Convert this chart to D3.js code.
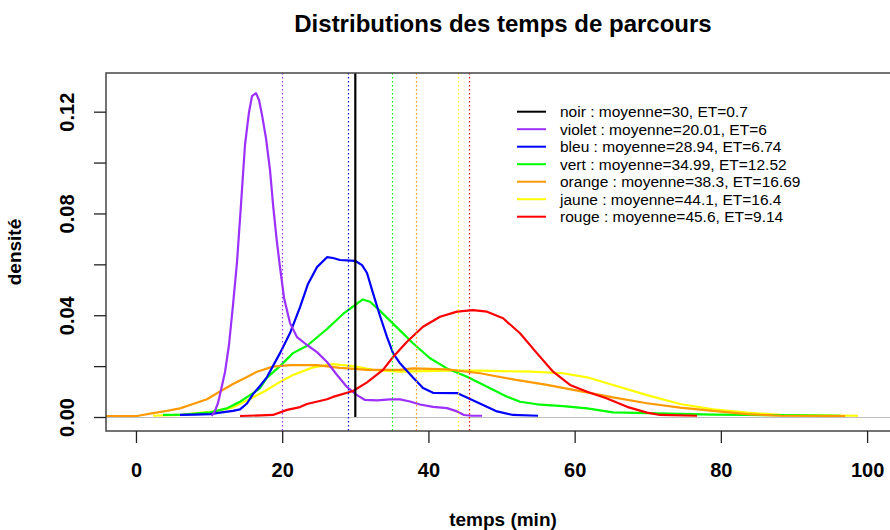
<!DOCTYPE html>
<html>
<head>
<meta charset="utf-8">
<script src="https://cdn.jsdelivr.net/npm/d3@7"></script>
<style>
  html, body { margin: 0; padding: 0; background: #fff; }
  svg { display: block; font-family: "Liberation Sans", Arial, sans-serif; }
</style>
</head>
<body>
<svg id="chart" width="890" height="530"></svg>
<script>
// Estimated kernel densities of travel time (minutes) for each route
const violetX = [10.36, 10.81, 11.22, 11.63, 12.18, 12.72, 13.27, 13.82, 14.36, 14.91, 15.46, 15.87, 16.42, 16.83, 17.24, 17.78, 18.33, 18.78, 19.25, 19.70, 20.25, 21.07, 22.02, 23.39, 24.76, 26.13, 27.50, 28.86, 30.23, 31.33, 32.97, 34.75, 36.11, 37.48, 38.85, 40.63, 42.54, 43.91, 44.87, 45.96, 47.33];
const violetY = [0.0004, 0.0024, 0.0055, 0.0106, 0.0177, 0.0283, 0.0440, 0.0609, 0.0833, 0.1069, 0.1198, 0.1261, 0.1273, 0.1246, 0.1187, 0.1096, 0.0971, 0.0825, 0.0695, 0.0589, 0.0468, 0.0369, 0.0314, 0.0283, 0.0255, 0.0216, 0.0165, 0.0118, 0.0086, 0.0067, 0.0065, 0.0069, 0.0069, 0.0061, 0.0049, 0.0040, 0.0035, 0.0022, 0.0008, 0.0005, 0.0005];

const bleuX = [6.02, 8.07, 10.12, 11.49, 13.27, 14.23, 15.18, 16.01, 16.96, 17.92, 19.70, 21.07, 22.44, 23.53, 24.76, 26.13, 26.95, 27.91, 29.96, 30.92, 31.60, 32.42, 33.38, 34.34, 35.16, 36.11, 37.89, 39.26, 40.63, 43.91, 45.55, 47.47, 49.38, 51.57, 54.99];
const bleuY = [0.0008, 0.0009, 0.0011, 0.0017, 0.0024, 0.0030, 0.0053, 0.0090, 0.0122, 0.0157, 0.0251, 0.0330, 0.0432, 0.0523, 0.0589, 0.0628, 0.0625, 0.0617, 0.0614, 0.0597, 0.0566, 0.0487, 0.0397, 0.0314, 0.0251, 0.0211, 0.0155, 0.0114, 0.0095, 0.0094, 0.0073, 0.0047, 0.0022, 0.0008, 0.0005];

const vertX = [3.69, 6.43, 10.12, 12.45, 14.23, 15.60, 16.96, 17.92, 19.70, 21.48, 23.39, 26.13, 28.32, 30.23, 31.05, 32.01, 33.38, 35.16, 37.89, 40.22, 42.54, 45.28, 48.02, 50.75, 52.53, 54.86, 58.41, 61.70, 65.25, 69.90, 74.42, 78.93, 83.58, 90.42, 96.31];
const vertY = [0.0008, 0.0009, 0.0018, 0.0034, 0.0060, 0.0086, 0.0113, 0.0155, 0.0200, 0.0251, 0.0280, 0.0346, 0.0405, 0.0446, 0.0462, 0.0453, 0.0417, 0.0367, 0.0290, 0.0231, 0.0191, 0.0158, 0.0119, 0.0080, 0.0060, 0.0050, 0.0043, 0.0034, 0.0018, 0.0015, 0.0012, 0.0009, 0.0008, 0.0007, 0.0005];

const orangeX = [-4.10, 0.14, 2.33, 4.24, 6.02, 7.80, 9.71, 11.49, 13.27, 15.18, 16.55, 18.74, 21.07, 24.76, 27.91, 31.60, 36.11, 37.89, 42.54, 47.06, 51.57, 56.22, 60.74, 65.25, 69.90, 74.42, 78.93, 83.58, 88.10, 97.0];
const orangeY = [0.0004, 0.0004, 0.0015, 0.0024, 0.0034, 0.0051, 0.0070, 0.0100, 0.0130, 0.0157, 0.0178, 0.0198, 0.0204, 0.0204, 0.0193, 0.0185, 0.0185, 0.0191, 0.0187, 0.0172, 0.0148, 0.0126, 0.0102, 0.0077, 0.0054, 0.0037, 0.0024, 0.0011, 0.0005, 0.0004];

const jauneX = [2.33, 6.02, 8.34, 10.53, 13.27, 15.60, 17.65, 19.70, 21.48, 24.21, 26.95, 29.69, 32.42, 36.11, 42.54, 47.06, 53.90, 58.41, 61.70, 65.25, 69.90, 74.42, 78.93, 83.58, 88.10, 98.77];
const jauneY = [0.0005, 0.0008, 0.0015, 0.0021, 0.0038, 0.0071, 0.0102, 0.0138, 0.0165, 0.0195, 0.0208, 0.0200, 0.0185, 0.0178, 0.0182, 0.0182, 0.0178, 0.0172, 0.0156, 0.0126, 0.0086, 0.0051, 0.0030, 0.0017, 0.0008, 0.0005];

const rougeX = [14.23, 18.74, 20.66, 22.44, 23.39, 26.13, 26.95, 29.69, 31.60, 33.79, 35.16, 37.07, 39.26, 41.59, 43.91, 46.10, 48.02, 50.21, 52.53, 54.86, 57.05, 59.37, 61.70, 64.43, 67.17, 69.90, 71.68, 76.74];
const rougeY = [0.0004, 0.0008, 0.0028, 0.0039, 0.0051, 0.0070, 0.0079, 0.0102, 0.0136, 0.0185, 0.0236, 0.0296, 0.0355, 0.0394, 0.0414, 0.0420, 0.0414, 0.0388, 0.0329, 0.0250, 0.0178, 0.0126, 0.0099, 0.0073, 0.0040, 0.0017, 0.0008, 0.0005];

// Route summaries: names, means, standard deviations (ET), colours
const routeNames = ["noir", "violet", "bleu", "vert", "orange", "jaune", "rouge"];
const routeMeans = [30, 20.01, 28.94, 34.99, 38.3, 44.1, 45.6];
const routeSD = [0.7, 6, 6.74, 12.52, 16.69, 16.4, 9.14];
const routeColors = ["#000000", "#9B30FF", "#0000FF", "#00FF00", "#FF9A00", "#FFFF00", "#FF0000"];

const xTicks = [0, 20, 40, 60, 80, 100];
const yTicks = [0, 0.02, 0.04, 0.06, 0.08, 0.10, 0.12];
const yLabelled = [0, 0.04, 0.08, 0.12];

const svg = d3.select("#chart");
const plotLeft = 106, plotRight = 900, plotTop = 73, plotBottom = 431;
const axisFont = "Liberation Sans, Arial, sans-serif";

const x = d3.scaleLinear().domain([-4.1, 104.5]).range([plotLeft, plotRight]);
const y = d3.scaleLinear().domain([-0.0055, 0.1352]).range([plotBottom, plotTop]);
const snap = v => Math.round(v) + 0.5;

svg.append("defs").append("clipPath").attr("id", "plotclip")
  .append("rect").attr("x", plotLeft).attr("y", plotTop)
  .attr("width", plotRight - plotLeft).attr("height", plotBottom - plotTop);

const plot = svg.append("g").attr("clip-path", "url(#plotclip)");

// zero reference line
plot.append("line")
  .attr("x1", plotLeft).attr("x2", plotRight)
  .attr("y1", snap(y(0))).attr("y2", snap(y(0)))
  .attr("stroke", "#BEBEBE").attr("stroke-width", 1.2);

const curves = [
  { xs: orangeX, ys: orangeY, color: routeColors[4] },
  { xs: violetX, ys: violetY, color: routeColors[1] },
  { xs: bleuX, ys: bleuY, color: routeColors[2] },
  { xs: vertX, ys: vertY, color: routeColors[3] },
  { xs: jauneX, ys: jauneY, color: routeColors[5] },
  { xs: rougeX, ys: rougeY, color: routeColors[6] }
];
// draw order: yellow under orange on the plateau
const drawOrder = [4, 3, 0, 2, 1, 5];

const line = d3.line().x(d => x(d[0])).y(d => y(d[1]));

drawOrder.forEach(i => {
  const c = curves[i];
  plot.append("path")
    .datum(d3.zip(c.xs, c.ys))
    .attr("d", line)
    .attr("fill", "none")
    .attr("stroke", c.color)
    .attr("stroke-width", 2.2)
    .attr("stroke-linejoin", "round");
});

// dotted lines at each route mean
routeMeans.forEach((m, i) => {
  if (i === 0) return;
  plot.append("line")
    .attr("x1", snap(x(m))).attr("x2", snap(x(m)))
    .attr("y1", plotTop).attr("y2", plotBottom)
    .attr("stroke", routeColors[i])
    .attr("stroke-width", 1.2)
    .attr("stroke-dasharray", "1.5,2.5");
});

// solid line for the "noir" route mean
plot.append("line")
  .attr("x1", x(routeMeans[0])).attr("x2", x(routeMeans[0]))
  .attr("y1", plotTop).attr("y2", y(0))
  .attr("stroke", routeColors[0])
  .attr("stroke-width", 2.2);

// plot frame
svg.append("rect")
  .attr("x", plotLeft).attr("y", plotTop)
  .attr("width", plotRight - plotLeft).attr("height", plotBottom - plotTop)
  .attr("fill", "none").attr("stroke", "#444").attr("stroke-width", 1.5);

// x axis
const xAxis = svg.append("g")
  .attr("transform", `translate(0,${plotBottom})`)
  .call(d3.axisBottom(x).tickValues(xTicks).tickSize(12).tickPadding(20).tickFormat(d3.format("d")));
xAxis.select(".domain").remove();
xAxis.selectAll("line").attr("stroke", "#222").attr("stroke-width", 1.3);
xAxis.selectAll("text")
  .attr("font-size", 20).attr("font-weight", "bold").attr("fill", "#000")
  .attr("font-family", axisFont);

// y axis with rotated labels
const yAxis = svg.append("g")
  .attr("transform", `translate(${plotLeft},0)`)
  .call(d3.axisLeft(y).tickValues(yTicks).tickSize(12)
    .tickFormat(d => yLabelled.some(v => Math.abs(v - d) < 1e-9) ? d3.format(".2f")(d) : ""));
yAxis.select(".domain").remove();
yAxis.selectAll("line").attr("stroke", "#222").attr("stroke-width", 1.3);
yAxis.selectAll("text")
  .attr("font-size", 20).attr("font-weight", "bold").attr("fill", "#000")
  .attr("font-family", axisFont)
  .attr("x", null).attr("dy", null)
  .attr("text-anchor", "middle")
  .attr("transform", "translate(-32,0) rotate(-90)");

// titles
svg.append("text")
  .attr("x", (plotLeft + plotRight) / 2).attr("y", 32)
  .attr("text-anchor", "middle")
  .attr("font-size", 24).attr("font-weight", "bold")
  .text("Distributions des temps de parcours");

svg.append("text")
  .attr("x", (plotLeft + plotRight) / 2).attr("y", 526)
  .attr("text-anchor", "middle")
  .attr("font-size", 19).attr("font-weight", "bold")
  .text("temps (min)");

svg.append("text")
  .attr("transform", `translate(21,${(plotTop + plotBottom) / 2}) rotate(-90)`)
  .attr("text-anchor", "middle")
  .attr("font-size", 19).attr("font-weight", "bold")
  .text("densité");

// legend
const legend = svg.append("g");
routeNames.forEach((name, i) => {
  const yy = 111.7 + i * 17.5;
  legend.append("line")
    .attr("x1", 517).attr("x2", 546)
    .attr("y1", yy).attr("y2", yy)
    .attr("stroke", routeColors[i]).attr("stroke-width", 2);
  legend.append("text")
    .attr("x", 560).attr("y", yy)
    .attr("dy", "0.35em")
    .attr("font-size", 15.5)
    .text(`${name} : moyenne=${routeMeans[i]}, ET=${routeSD[i]}`);
});
</script>
</body>
</html>
